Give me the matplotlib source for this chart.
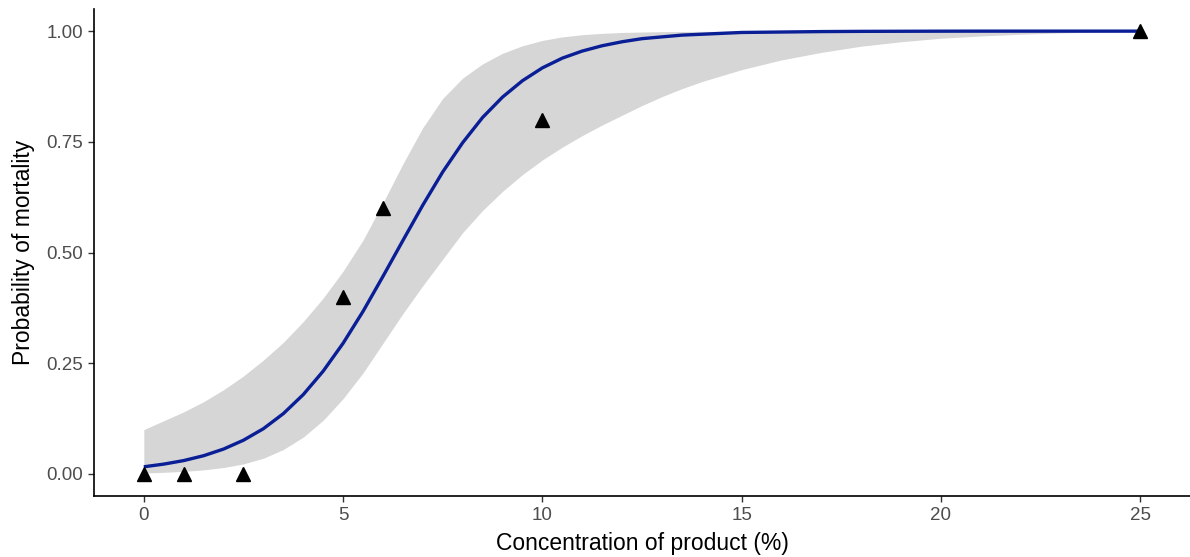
import matplotlib
matplotlib.use("Agg")
import matplotlib.pyplot as plt

# Observed data (triangles)
obs_conc = [0, 1, 2.5, 5, 6, 10, 25]
obs_mort = [0.0, 0.0, 0.0, 0.4, 0.6, 0.8, 1.0]

# Fitted curve and confidence band
fit_conc = [0, 0.5, 1, 1.5, 2, 2.5, 3, 3.5, 4, 4.5, 5, 5.5, 6, 6.5, 7, 7.5,
            8, 8.5, 9, 9.5, 10, 10.5, 11, 11.5, 12, 12.5, 13, 13.5, 14,
            15, 16, 17, 18, 19, 20, 21, 22, 23, 24, 25]
fit_prob = [0.016, 0.022, 0.030, 0.041, 0.056, 0.076, 0.102, 0.136, 0.179,
            0.232, 0.295, 0.367, 0.446, 0.527, 0.607, 0.682, 0.748, 0.805,
            0.851, 0.888, 0.917, 0.939, 0.955, 0.967, 0.976, 0.983, 0.987,
            0.991, 0.993, 0.997, 0.998, 0.999, 0.9995, 0.9997, 0.9999,
            1.0, 1.0, 1.0, 1.0, 1.0]
fit_upper = [0.100, 0.120, 0.140, 0.163, 0.190, 0.221, 0.257, 0.297, 0.344,
             0.397, 0.458, 0.528, 0.612, 0.700, 0.782, 0.848, 0.894, 0.926,
             0.950, 0.967, 0.979, 0.987, 0.992, 0.995, 0.997, 0.998, 0.9988,
             0.9992, 0.9995, 0.9998, 0.9999, 1.0, 1.0, 1.0, 1.0, 1.0, 1.0,
             1.0, 1.0, 1.0]
fit_lower = [0.002, 0.0035, 0.0056, 0.009, 0.0143, 0.0226, 0.0353, 0.055,
             0.083, 0.121, 0.170, 0.228, 0.295, 0.362, 0.425, 0.485, 0.545,
             0.595, 0.638, 0.676, 0.709, 0.738, 0.764, 0.788, 0.810, 0.832,
             0.852, 0.870, 0.886, 0.913, 0.935, 0.952, 0.966, 0.976, 0.984,
             0.989, 0.993, 0.996, 0.998, 0.999]

x_ticks = [0, 5, 10, 15, 20, 25]
y_ticks = [0.0, 0.25, 0.5, 0.75, 1.0]
y_tick_labels = ["0.00", "0.25", "0.50", "0.75", "1.00"]

plt.rcParams['font.family'] = ['Liberation Sans', 'DejaVu Sans']

fig = plt.figure(figsize=(11.9, 5.57), dpi=100)
ax = fig.add_axes([94 / 1190, 61 / 557, 1096 / 1190, 487 / 557])

ax.fill_between(fit_conc, fit_lower, fit_upper, color='#D6D6D6', linewidth=0, zorder=1)
ax.plot(fit_conc, fit_prob, color='#0A1E96', linewidth=2.4, zorder=2,
        solid_capstyle='butt', solid_joinstyle='round')
ax.plot(obs_conc, obs_mort, linestyle='none', marker='^', markersize=10.5,
        color='black', zorder=3)

ax.set_xlim(-1.25, 26.25)
ax.set_ylim(-0.05, 1.05)
ax.set_xticks(x_ticks)
ax.set_xticklabels([str(v) for v in x_ticks])
ax.set_yticks(y_ticks)
ax.set_yticklabels(y_tick_labels)

for side in ['top', 'right']:
    ax.spines[side].set_visible(False)
for side in ['left', 'bottom']:
    ax.spines[side].set_linewidth(1.2)
    ax.spines[side].set_color('black')

ax.tick_params(axis='both', which='major', length=4, width=1.0, color='#333333',
               labelcolor='#4D4D4D', labelsize=13.5, pad=4)

ax.set_xlabel("Concentration of product (%)", fontsize=16.5, color='black', labelpad=6)
ax.set_ylabel("Probability of mortality", fontsize=16.5, color='black', labelpad=8)

fig.savefig("out.png", dpi=100, facecolor='white')
